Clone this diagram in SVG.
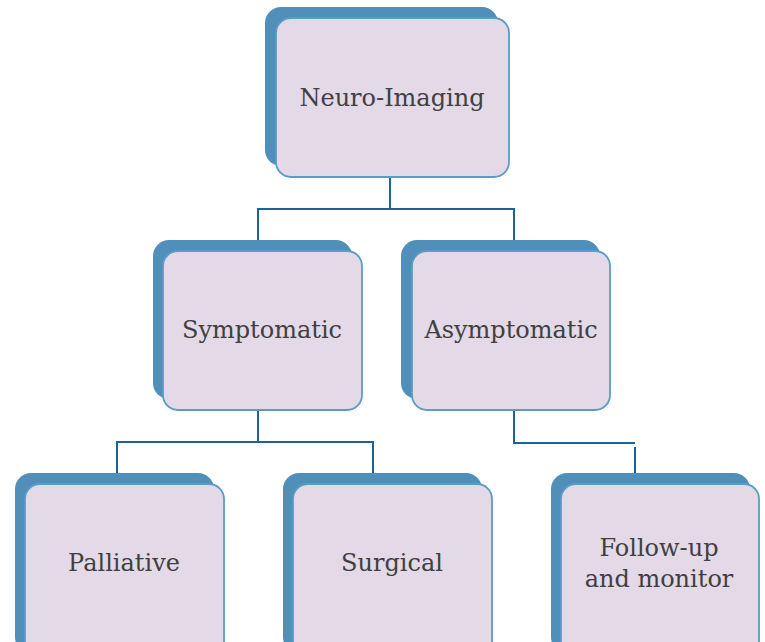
<svg xmlns="http://www.w3.org/2000/svg" width="765" height="642" viewBox="0 0 765 642">
<style>
.sh{fill:#4f8fb9;}
.bx{fill:#e3d9e7;stroke:#5b9cc6;stroke-width:1.8;}
.t{font-family:"DejaVu Serif","Liberation Serif",serif;font-size:24px;fill:#404040;text-anchor:middle;}
.c{fill:none;stroke:#1a649c;stroke-width:2;}
</style>
<rect width="765" height="642" fill="#ffffff"/>
<g id="connectors">
<polyline class="c" points="390,177 390,209 258,209 258,241"/>
<polyline class="c" points="390,209 514,209 514,241"/>
<polyline class="c" points="258,410 258,442 117,442 117,473"/>
<polyline class="c" points="258,442 373,442 373,473"/>
<polyline class="c" points="514,410 514,443 635,443"/>
<line class="c" x1="635" y1="447" x2="635" y2="473"/>
</g>
<g id="neuro">
<rect class="sh" x="265" y="7" width="233" height="159" rx="16"/>
<rect class="bx" x="276" y="18" width="233" height="159" rx="15"/>
<text class="t" x="392" y="106">Neuro-Imaging</text>
</g>
<g id="symptomatic">
<rect class="sh" x="153" y="240" width="199" height="159" rx="16"/>
<rect class="bx" x="163" y="251" width="199" height="159" rx="15"/>
<text class="t" x="262" y="338">Symptomatic</text>
</g>
<g id="asymptomatic">
<rect class="sh" x="401" y="240" width="199" height="159" rx="16"/>
<rect class="bx" x="412" y="251" width="198" height="159" rx="15"/>
<text class="t" x="511" y="338">Asymptomatic</text>
</g>
<g id="palliative">
<rect class="sh" x="15" y="473" width="199" height="180" rx="16"/>
<rect class="bx" x="25" y="484" width="199" height="180" rx="15"/>
<text class="t" x="124" y="571">Palliative</text>
</g>
<g id="surgical">
<rect class="sh" x="283" y="473" width="199" height="180" rx="16"/>
<rect class="bx" x="293" y="484" width="199" height="180" rx="15"/>
<text class="t" x="392" y="571">Surgical</text>
</g>
<g id="followup">
<rect class="sh" x="551" y="473" width="199" height="180" rx="16"/>
<rect class="bx" x="561" y="484" width="198" height="180" rx="15"/>
<text class="t" x="659" y="556">Follow-up</text>
<text class="t" x="659" y="587">and monitor</text>
</g>
</svg>
